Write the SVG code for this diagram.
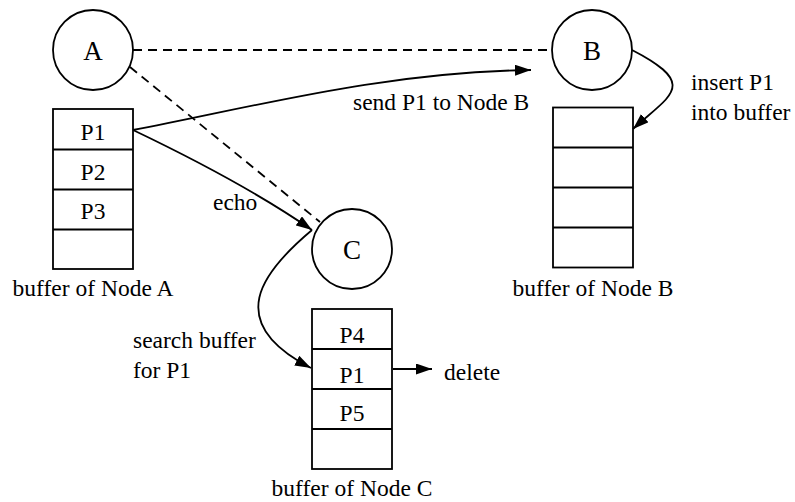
<svg xmlns="http://www.w3.org/2000/svg" width="795" height="502" viewBox="0 0 795 502">
<style>
  .shape { fill: #fff; stroke: #000; stroke-width: 1.8; }
  .row { fill: none; stroke: #000; stroke-width: 1.8; }
  .dash { fill: none; stroke: #000; stroke-width: 1.8; stroke-dasharray: 9 6; }
  .conn { fill: none; stroke: #000; stroke-width: 1.8; }
  text { font-size: 23.5px; fill: #000; }
  .node { font-size: 27px; text-anchor: middle; }
  .mid { text-anchor: middle; }
</style>
<defs>
  <marker id="arrow" markerUnits="userSpaceOnUse" markerWidth="17" markerHeight="12" refX="16" refY="5.5" orient="auto">
    <path d="M0,0 L16,5.5 L0,11 z" fill="#000"/>
  </marker>
</defs>
<rect width="795" height="502" fill="#fff"/>

<g font-family="'Liberation Serif', 'Times New Roman', 'DejaVu Serif', serif">
<g id="dashed-links">
  <line class="dash" x1="133" y1="50" x2="552" y2="50"/>
  <line class="dash" x1="130" y1="67" x2="320" y2="222"/>
</g>

<g id="node-A">
  <circle class="shape" cx="93" cy="50" r="40"/>
  <text class="node" x="93" y="60">A</text>
</g>
<g id="node-B">
  <circle class="shape" cx="592" cy="50" r="40"/>
  <text class="node" x="592" y="60">B</text>
</g>
<g id="node-C">
  <circle class="shape" cx="352" cy="249" r="40"/>
  <text class="node" x="352" y="259">C</text>
</g>

<g id="buffer-A">
  <rect class="shape" x="53" y="109" width="80" height="160"/>
  <line class="row" x1="53" y1="149.5" x2="133" y2="149.5"/>
  <line class="row" x1="53" y1="189.5" x2="133" y2="189.5"/>
  <line class="row" x1="53" y1="229.5" x2="133" y2="229.5"/>
  <text class="mid" x="93" y="140">P1</text>
  <text class="mid" x="93" y="180">P2</text>
  <text class="mid" x="93" y="219">P3</text>
  <text class="mid" x="93" y="296">buffer of Node A</text>
</g>

<g id="buffer-B">
  <rect class="shape" x="553" y="107.5" width="80" height="160"/>
  <line class="row" x1="553" y1="147.5" x2="633" y2="147.5"/>
  <line class="row" x1="553" y1="187.5" x2="633" y2="187.5"/>
  <line class="row" x1="553" y1="227.5" x2="633" y2="227.5"/>
  <text class="mid" x="593" y="296">buffer of Node B</text>
</g>

<g id="buffer-C">
  <rect class="shape" x="312" y="309" width="80" height="160"/>
  <line class="row" x1="312" y1="349" x2="392" y2="349"/>
  <line class="row" x1="312" y1="389" x2="392" y2="389"/>
  <line class="row" x1="312" y1="429" x2="392" y2="429"/>
  <text class="mid" x="352" y="343">P4</text>
  <text class="mid" x="352" y="383">P1</text>
  <text class="mid" x="352" y="421">P5</text>
  <text class="mid" x="352" y="496">buffer of Node C</text>
</g>

<g id="connectors">
  <path class="conn" d="M133,130 C250,108 380,72 531,70" marker-end="url(#arrow)"/>
  <path class="conn" d="M133,130 C200,162 260,194 312,230" marker-end="url(#arrow)"/>
  <path class="conn" d="M632,50 C700,85 670,95 633,129" marker-end="url(#arrow)"/>
  <path class="conn" d="M312,230 C262,272 222,322 311,368" marker-end="url(#arrow)"/>
  <line class="conn" x1="393" y1="369" x2="432" y2="369" marker-end="url(#arrow)"/>
</g>

<g id="labels">
  <text x="353" y="110">send P1 to Node B</text>
  <text x="691" y="90">insert P1</text>
  <text x="691" y="120">into buffer</text>
  <text x="213" y="210">echo</text>
  <text x="133" y="348">search buffer</text>
  <text x="133" y="378">for P1</text>
  <text x="444" y="380">delete</text>
</g>
</g>
</svg>
